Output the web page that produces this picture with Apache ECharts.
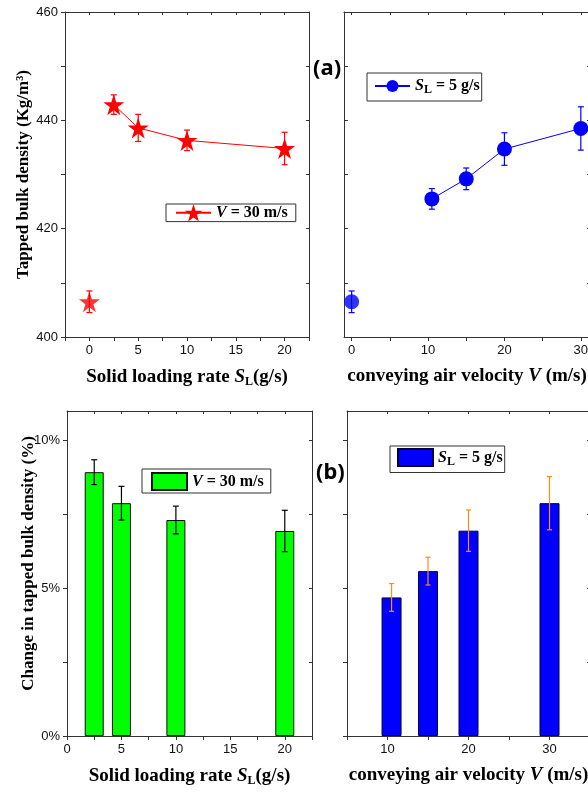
<!DOCTYPE html>
<html>
<head>
<meta charset="utf-8">
<script src="https://cdn.jsdelivr.net/npm/echarts@6/dist/echarts.min.js"></script>
<style>
html,body{margin:0;padding:0;background:#fff;}
#chart{width:588px;height:794px;}
</style>
</head>
<body>
<div id="chart"></div>
<script>
// ---- Data ----
// (a) left: tapped bulk density vs solid loading rate, V = 30 m/s
const tlX   = [0, 2.5, 5, 10, 20];
const tlY   = [406.5, 442.9, 438.6, 436.3, 434.8];
const tlErr = [2.0, 1.8, 2.5, 1.9, 3.0];
// (a) right: tapped bulk density vs conveying air velocity, SL = 5 g/s
const trX   = [0, 10.5, 15, 20, 30];
const trY   = [406.5, 425.5, 429.2, 434.7, 438.5];
const trErr = [2.0, 1.9, 2.0, 3.0, 4.0];
// (b) left: change in tapped bulk density (%) vs solid loading rate
const blX   = [2.5, 5, 10, 20];
const blY   = [8.93, 7.88, 7.31, 6.94];
const blErr = [0.42, 0.57, 0.47, 0.70];
// (b) right: change (%) vs conveying air velocity
const brX   = [10.5, 15, 20, 30];
const brY   = [4.69, 5.58, 6.95, 7.88];
const brErr = [0.47, 0.47, 0.70, 0.90];

// tick labels / tick positions
const tlXTicks  = [-2.5, 0, 2.5, 5, 7.5, 10, 12.5, 15, 17.5, 20, 22.5];
const tlXLabels = [0, 5, 10, 15, 20];
const trXTicks  = [0, 5, 10, 15, 20, 25, 30];
const trXLabels = [0, 10, 20, 30];
const blXTicks  = [0, 2.5, 5, 7.5, 10, 12.5, 15, 17.5, 20, 22.5];
const blXLabels = [0, 5, 10, 15, 20];
const brXTicks  = [5, 10, 15, 20, 25, 30, 35];
const brXLabels = [10, 20, 30];
const densTicks  = [400, 410, 420, 430, 440, 450, 460];
const densLabels = [400, 420, 440, 460];
const pctTicks   = [0, 2.5, 5, 7.5, 10];
const pctLabels  = [0, 5, 10];

const legendText = {
  tl: '{i|V}{b| = 30 m/s}',
  tr: '{i|S}{sub|L}{b| = 5 g/s}',
  bl: '{i|V}{b| = 30 m/s}',
  br: '{i|S}{sub|L}{b| = 5 g/s}'
};

// ---- styles ----
const SERIF = 'Liberation Serif';
const SANS = 'Liberation Sans';
const AX = '#333';
const starPath = 'path://M50,0 L61.2,34.5 L97.6,34.5 L68.2,55.9 L79.4,90.5 L50,69.1 L20.6,90.5 L31.8,55.9 L2.4,34.5 L38.8,34.5 Z';

const richName = {
  i: {fontFamily: SERIF, fontWeight: 'bold', fontStyle: 'italic', fontSize: 19, color: '#000'},
  sub: {fontFamily: SERIF, fontWeight: 'bold', fontSize: 12, color: '#000', padding: [9, 0, 0, 0]}
};
const nameStyleX = {fontFamily: SERIF, fontWeight: 'bold', fontSize: 19, color: '#000', rich: richName};
const labelStyle = {fontFamily: SANS, fontSize: 13, color: '#111'};

function mainX(grid, min, max, ticks, labels, name, inside) {
  return {
    type: 'value', gridIndex: grid, position: 'bottom', min: min, max: max,
    name: name, nameLocation: 'middle', nameGap: 30, nameMoveOverlap: false, nameTextStyle: nameStyleX,
    axisLine: {show: true, onZero: false, lineStyle: {color: AX, width: 1}},
    axisTick: {show: true, inside: !!inside, length: 4, customValues: ticks, lineStyle: {color: AX}},
    axisLabel: {show: true, margin: 7, customValues: labels, ...labelStyle},
    splitLine: {show: false}
  };
}
function mirrorX(grid, min, max, ticks) {
  return {
    type: 'value', gridIndex: grid, position: 'top', min: min, max: max,
    axisLine: {show: true, onZero: false, lineStyle: {color: AX, width: 1}},
    axisTick: {show: true, inside: true, length: 3, customValues: ticks, lineStyle: {color: AX}},
    axisLabel: {show: false}, splitLine: {show: false}
  };
}
function mainY(grid, min, max, ticks, labels, name, inside, fmt, gap, showLabels, namePad) {
  return {
    type: 'value', gridIndex: grid, position: 'left', min: min, max: max,
    name: name, nameLocation: 'middle', nameGap: gap, nameMoveOverlap: false,
    nameTextStyle: {fontFamily: SERIF, fontWeight: 'bold', fontSize: 17, color: '#000', padding: namePad || 0},
    axisLine: {show: true, onZero: false, lineStyle: {color: AX, width: 1}},
    axisTick: {show: true, inside: !!inside, length: 4, customValues: ticks, lineStyle: {color: AX}},
    axisLabel: {show: !!showLabels, margin: 7, customValues: labels, formatter: fmt || '{value}', ...labelStyle},
    splitLine: {show: false}
  };
}
function mirrorY(grid, min, max, ticks) {
  return {
    type: 'value', gridIndex: grid, position: 'right', min: min, max: max,
    axisLine: {show: true, onZero: false, lineStyle: {color: AX, width: 1}},
    axisTick: {show: true, inside: true, length: 3, customValues: ticks, lineStyle: {color: AX}},
    axisLabel: {show: false}, splitLine: {show: false}
  };
}

function errSeries(id, xi, yi, xs, ys, es, color, cap, z) {
  return {
    type: 'custom', id: id, xAxisIndex: xi, yAxisIndex: yi, silent: true, z: z,
    data: xs.map((x, i) => [x, ys[i] - es[i], ys[i] + es[i]]),
    encode: {x: 0, y: [1, 2]},
    renderItem: function (params, api) {
      const lo = api.coord([api.value(0), api.value(1)]);
      const hi = api.coord([api.value(0), api.value(2)]);
      const h = cap / 2;
      const st = {stroke: color, lineWidth: 1.2};
      return {type: 'group', children: [
        {type: 'line', shape: {x1: lo[0], y1: lo[1], x2: hi[0], y2: hi[1]}, style: st},
        {type: 'line', shape: {x1: lo[0] - h, y1: lo[1], x2: lo[0] + h, y2: lo[1]}, style: st},
        {type: 'line', shape: {x1: hi[0] - h, y1: hi[1], x2: hi[0] + h, y2: hi[1]}, style: st}
      ]};
    }
  };
}

const legendRich = {
  i: {fontFamily: SERIF, fontWeight: 'bold', fontStyle: 'italic', fontSize: 16, color: '#000'},
  b: {fontFamily: SERIF, fontWeight: 'bold', fontSize: 16, color: '#000'},
  sub: {fontFamily: SERIF, fontWeight: 'bold', fontSize: 12, color: '#000', padding: [8, 0, 0, 0]}
};
function legend(name, left, top, itemW, itemH, pad, icon) {
  const l = {
    data: [name], left: left, top: top, orient: 'horizontal',
    itemWidth: itemW, itemHeight: itemH, padding: pad, itemGap: 0,
    borderColor: '#333', borderWidth: 1, backgroundColor: '#fff',
    selectedMode: false,
    formatter: n => legendText[n],
    textStyle: {fontFamily: SERIF, fontWeight: 'bold', fontSize: 16, color: '#000', rich: legendRich}
  };
  if (icon) l.icon = icon;
  return l;
}

const option = {
  animation: false,
  backgroundColor: '#fff',
  grid: [
    {left: 65, top: 12, width: 244, height: 325, outerBoundsMode: 'none', containLabel: false},
    {left: 344, top: 12, width: 246, height: 325, outerBoundsMode: 'none', containLabel: false},
    {left: 67, top: 411, width: 245, height: 325, outerBoundsMode: 'none', containLabel: false},
    {left: 347, top: 411, width: 243, height: 325, outerBoundsMode: 'none', containLabel: false}
  ],
  xAxis: [
    mainX(0, -2.5, 22.5, tlXTicks, tlXLabels, 'Solid loading rate {i|S}{sub|L}(g/s)'),
    mirrorX(0, -2.5, 22.5, tlXTicks),
    mainX(1, -1, 31.2, trXTicks, trXLabels, 'conveying air velocity {i|V} (m/s)'),
    mirrorX(1, -1, 31.2, trXTicks),
    mainX(2, 0, 22.5, blXTicks, blXLabels, 'Solid loading rate {i|S}{sub|L}(g/s)'),
    mirrorX(2, 0, 22.5, blXTicks),
    mainX(3, 5, 35, brXTicks, brXLabels, 'conveying air velocity {i|V} (m/s)'),
    mirrorX(3, 5, 35, brXTicks)
  ],
  yAxis: [
    mainY(0, 400, 460, densTicks, densLabels, 'Tapped bulk density (Kg/m³)', false, '{value}', 33, true),
    mirrorY(0, 400, 460, densTicks),
    mainY(1, 400, 460, densTicks, densLabels, '', true, '{value}', 33, false),
    mirrorY(1, 400, 460, densTicks),
    mainY(2, 0, 11, pctTicks, pctLabels, 'Change in tapped bulk density (%)', false, '{value}%', 30, true, [0, 0, 0, 20]),
    mirrorY(2, 0, 11, pctTicks),
    mainY(3, 0, 11, pctTicks, pctLabels, '', false, '{value}%', 30, false),
    mirrorY(3, 0, 11, pctTicks)
  ],
  legend: [
    legend('tl', 166, 204, 35, 22, [0, 8, 0, 9]),
    legend('tr', 367, 73, 35, 15, [5, 2, 5, 7]),
    legend('bl', 142, 469, 35, 17, [3, 7, 2, 9], 'rect'),
    legend('br', 390, 446, 35, 17, [2, 2, 5, 7], 'rect')
  ],
  graphic: [
    {type: 'text', left: 313, top: 58, style: {text: '(a)', fontFamily: 'Noto Sans', fontWeight: 'bold', fontSize: 22, fill: '#000'}},
    {type: 'text', left: 316, top: 462, style: {text: '(b)', fontFamily: 'Noto Sans', fontWeight: 'bold', fontSize: 22, fill: '#000'}}
  ],
  series: [
    // (a) left
    errSeries('tlErr', 0, 0, tlX, tlY, tlErr, '#ff0000', 6, 2),
    {
      name: 'tl', type: 'line', xAxisIndex: 0, yAxisIndex: 0, z: 3,
      data: tlX.slice(1).map((x, i) => [x, tlY[i + 1]]),
      symbol: starPath, symbolSize: 21,
      lineStyle: {color: '#ff0000', width: 1}, itemStyle: {color: '#ff0000'}
    },
    {
      name: 'tl0', type: 'scatter', xAxisIndex: 0, yAxisIndex: 0, z: 3,
      data: [[tlX[0], tlY[0]]],
      symbol: starPath, symbolSize: 21, itemStyle: {color: '#ff0000'}
    },
    // (a) right
    errSeries('trErr', 2, 2, trX, trY, trErr, '#0000ff', 6, 2),
    {
      name: 'tr', type: 'line', xAxisIndex: 2, yAxisIndex: 2, z: 3,
      data: trX.slice(1).map((x, i) => [x, trY[i + 1]]),
      symbol: 'circle', symbolSize: 15,
      lineStyle: {color: '#0000ff', width: 1}, itemStyle: {color: '#0000ff'}
    },
    {
      name: 'tr0', type: 'scatter', xAxisIndex: 2, yAxisIndex: 2, z: 3,
      data: [[trX[0], trY[0]]],
      symbol: 'circle', symbolSize: 15, itemStyle: {color: '#0000ff'}
    },
    // (b) left
    {
      name: 'bl', type: 'bar', xAxisIndex: 4, yAxisIndex: 4, z: 2,
      data: blX.map((x, i) => [x, blY[i]]), barWidth: 19,
      itemStyle: {color: '#00ff00', borderColor: '#111', borderWidth: 1}
    },
    errSeries('blErr', 4, 4, blX, blY, blErr, '#000000', 6, 4),
    // (b) right
    {
      name: 'br', type: 'bar', xAxisIndex: 6, yAxisIndex: 6, z: 2,
      data: brX.map((x, i) => [x, brY[i]]), barWidth: 20,
      itemStyle: {color: '#0000ff', borderColor: '#000033', borderWidth: 1}
    },
    errSeries('brErr', 6, 6, brX, brY, brErr, '#ff8c1a', 5, 4)
  ]
};

const chart = echarts.init(document.getElementById('chart'), null, {renderer: 'canvas'});
chart.setOption(option);
</script>
</body>
</html>
